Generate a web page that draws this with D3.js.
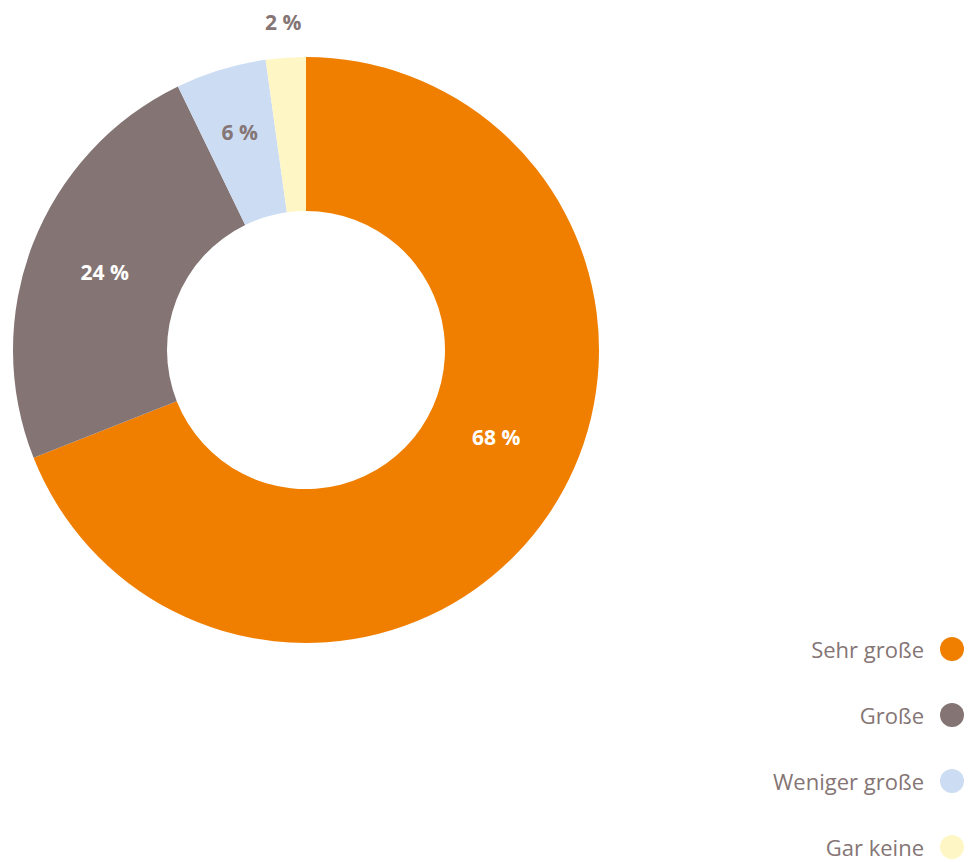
<!DOCTYPE html>
<html>
<head>
<meta charset="utf-8">
<script src="https://cdn.jsdelivr.net/npm/d3@7"></script>
<style>
  body { margin: 0; background: #fff; }
  svg { display: block; font-family: "Open Sans", Lato, sans-serif; }
</style>
</head>
<body>
<svg id="chart" width="979" height="862"></svg>
<script>
// Data
const categories = ["Sehr große", "Große", "Weniger große", "Gar keine"];
const values = [69, 23.8, 5, 2.2];          // slice sizes as drawn
const labels = ["68 %", "24 %", "6 %", "2 %"];  // printed labels
const colors = ["#f07f00", "#847474", "#ccdcf2", "#fff6c6"];

const textGray = "#857575";
const cx = 306, cy = 350;
const outerR = 293, innerR = 139;

const svg = d3.select("#chart");

const pie = d3.pie().sort(null).value(d => d.value);
const arcs = pie(categories.map((c, i) => ({ name: c, value: values[i], label: labels[i], color: colors[i] })));

const arc = d3.arc().innerRadius(innerR).outerRadius(outerR);

const g = svg.append("g").attr("transform", `translate(${cx},${cy})`);

g.selectAll("path.slice")
  .data(arcs)
  .enter()
  .append("path")
  .attr("class", "slice")
  .attr("fill", d => d.data.color)
  .attr("d", arc);

// Label placement: inside the ring for big slices, outside for the tiny one
function labelPos(d, i) {
  let a = (d.startAngle + d.endAngle) / 2;
  let r = 216;
  if (i === 0) { a -= 0.17; r = 209; }   // big slice label sits a bit higher
  if (i === 2) r = 228;
  if (i === 3) r = 329;
  return [Math.sin(a) * r, -Math.cos(a) * r];
}

g.selectAll("text.lbl")
  .data(arcs)
  .enter()
  .append("text")
  .attr("class", "lbl")
  .attr("x", (d, i) => labelPos(d, i)[0])
  .attr("y", (d, i) => labelPos(d, i)[1])
  .attr("text-anchor", "middle")
  .attr("dominant-baseline", "central")
  .style("font-size", "21px")
  .style("font-weight", "bold")
  .attr("fill", (d, i) => i < 2 ? "#fff" : textGray)
  .text(d => d.data.label);

// Legend
const legendY = d3.scalePoint().domain(categories).range([649, 847]);

const legend = svg.append("g");
const item = legend.selectAll("g")
  .data(arcs)
  .enter()
  .append("g")
  .attr("transform", d => `translate(0,${legendY(d.data.name)})`);

item.append("circle")
  .attr("cx", 952)
  .attr("r", 12)
  .attr("fill", d => d.data.color);

item.append("text")
  .attr("x", 924)
  .attr("text-anchor", "end")
  .attr("dominant-baseline", "central")
  .style("font-size", "22px")
  .attr("fill", textGray)
  .text(d => d.data.name);
</script>
</body>
</html>
